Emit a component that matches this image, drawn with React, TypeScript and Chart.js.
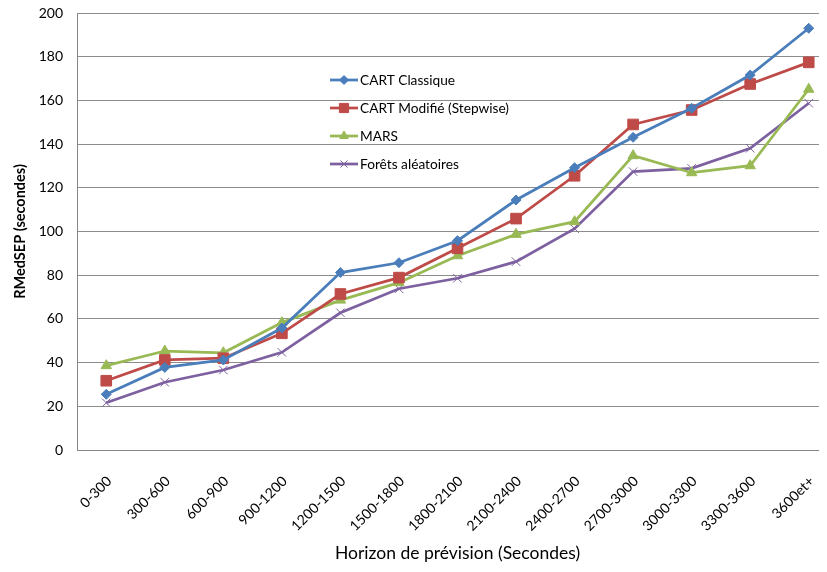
import React, { useEffect, useRef } from "react";
import { Chart, registerables } from "chart.js";
import { drawPoint } from "chart.js/helpers";

Chart.register(...registerables);

const categories = [
  "0-300", "300-600", "600-900", "900-1200", "1200-1500", "1500-1800", "1800-2100",
  "2100-2400", "2400-2700", "2700-3000", "3000-3300", "3300-3600", "3600et+",
];
const cartClassique = [25.5, 37.8, 41.2, 55.8, 81.2, 85.7, 95.8, 114.4, 129.2, 143.1, 156.4, 171.6, 193];
const cartModifie = [31.7, 41.2, 42, 53.4, 71.4, 78.9, 92.3, 105.9, 125.5, 149, 155.6, 167.5, 177.4];
const mars = [38.6, 45.3, 44.5, 58.3, 68.6, 76.6, 88.9, 98.7, 104.5, 134.7, 126.9, 130.1, 165.1];
const foretsAleatoires = [21.6, 31, 36.6, 44.7, 62.8, 73.8, 78.6, 86.2, 101.3, 127.4, 128.9, 138.1, 158.7];
const yTicks = [0, 20, 40, 60, 80, 100, 120, 140, 160, 180, 200];

const FONT = "Lato, 'Open Sans', sans-serif";

const insideLegend = {
  id: "insideLegend",
  afterDraw(chart: any) {
    const ctx = chart.ctx;
    const x0 = 322;
    const y0 = 72;
    const gap = 28;
    chart.data.datasets.forEach((ds: any, i: number) => {
      const y = y0 + i * gap;
      ctx.save();
      ctx.strokeStyle = ds.borderColor;
      ctx.lineWidth = 2.75;
      ctx.beginPath();
      ctx.moveTo(x0, y);
      ctx.lineTo(x0 + 28, y);
      ctx.stroke();
      ctx.fillStyle = ds.pointBackgroundColor;
      ctx.strokeStyle = ds.pointBorderColor;
      ctx.lineWidth = ds.pointBorderWidth;
      drawPoint(ctx, { pointStyle: ds.pointStyle, radius: ds.legendRadius, rotation: 0, borderWidth: ds.pointBorderWidth }, x0 + 14, y);
      ctx.fillStyle = "#000";
      ctx.font = `13.7px ${FONT}`;
      ctx.textBaseline = "middle";
      ctx.textAlign = "left";
      ctx.fillText(ds.label, x0 + 30, y + 1);
      ctx.restore();
    });
  },
};

export default function App() {
  const ref = useRef<HTMLCanvasElement | null>(null);
  useEffect(() => {
    if (!ref.current) return;
    const mk = (label: string, data: number[], color: string, style: string, radius: number, lr: number, bw: number) => ({
      label,
      data,
      borderColor: color,
      backgroundColor: color,
      pointBackgroundColor: color,
      pointBorderColor: color,
      pointStyle: style,
      pointRadius: radius,
      pointBorderWidth: bw,
      legendRadius: lr,
      borderWidth: 2.75,
      tension: 0,
      fill: false,
    });
    const chart = new Chart(ref.current, {
      type: "line",
      data: {
        labels: categories,
        datasets: [
          mk("CART Classique", cartClassique, "#4A7EBB", "rectRot", 5, 4.5, 1),
          mk("CART Modifié (Stepwise)", cartModifie, "#BE4B48", "rect", 7.5, 6.5, 1),
          mk("MARS", mars, "#98B954", "triangle", 6, 5, 1),
          mk("Forêts aléatoires", foretsAleatoires, "#7D60A0", "crossRot", 6, 5, 1),
        ] as any,
      },
      options: {
        responsive: false,
        animation: false,
        layout: { autoPadding: false, padding: { top: 5, right: 2, left: 0, bottom: 0 } },
        plugins: { legend: { display: false }, tooltip: { enabled: false } },
        scales: {
          x: {
            type: "category",
            offset: true,
            grid: { display: false, drawTicks: false },
            border: { display: true, color: "#868686", width: 1 },
            ticks: {
              color: "#000",
              font: { family: FONT, size: 14 },
              minRotation: 45,
              maxRotation: 45,
              padding: 23,
              labelOffset: 3,
              autoSkip: false,
            },
            title: {
              display: true,
              text: "Horizon de prévision (Secondes)",
              color: "#000",
              font: { family: FONT, size: 17.5 },
              padding: { top: 4, bottom: 0 },
            },
            afterFit: (s: any) => {
              s.height = 114;
              s.paddingLeft = 0;
              s.paddingRight = 0;
            },
          },
          y: {
            min: 0,
            max: 200,
            afterBuildTicks: (s: any) => { s.ticks = yTicks.map((v) => ({ value: v })); },
            grid: { color: "#8c8c8c", lineWidth: 1, drawTicks: false },
            border: { display: true, color: "#868686", width: 1 },
            ticks: {
              color: "#000",
              font: { family: FONT, size: 14 },
              padding: 14,
            },
            title: {
              display: true,
              text: "RMedSEP (secondes)",
              color: "#000",
              font: { family: FONT, size: 14.5, weight: "bold" },
              padding: { top: 4, bottom: 0 },
            },
            afterFit: (s: any) => {
              s.width = 69;
              s.paddingTop = 0;
              s.paddingBottom = 0;
            },
          },
        },
      },
      plugins: [insideLegend],
    } as any);
    return () => chart.destroy();
  }, []);
  return (
    <div style={{ width: 819, height: 556, overflow: "hidden" }}>
      <canvas ref={ref} width={832} height={556} style={{ display: "block" }} />
    </div>
  );
}
